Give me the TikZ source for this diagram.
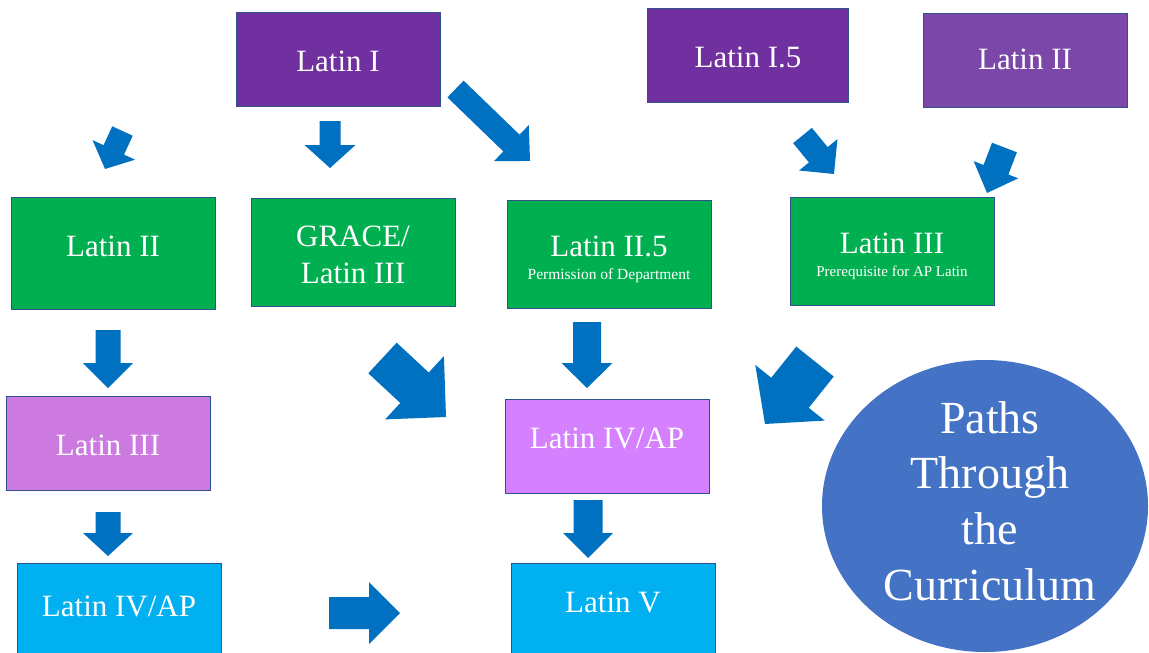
\documentclass[tikz,border=0pt]{standalone}
\usepackage{fontspec}
\setmainfont{Liberation Serif}
\usepackage{xcolor}
\usepackage{tikz}
\usetikzlibrary{positioning}

\definecolor{morado}{RGB}{112,48,160}
\definecolor{moradoclaro}{RGB}{123,72,170}
\definecolor{verde}{RGB}{0,176,80}
\definecolor{rosa}{RGB}{204,121,224}
\definecolor{rosaclaro}{RGB}{213,128,255}
\definecolor{celeste}{RGB}{0,176,240}
\definecolor{azul}{RGB}{0,112,192}
\definecolor{azulcirc}{RGB}{68,114,196}
\definecolor{borde}{RGB}{47,82,143}

% flecha de bloque: x, y, angulo, largo, ancho cuerpo, ancho punta, largo punta
\newcommand{\flecha}[7]{%
  \begin{scope}[shift={(#1,#2)},rotate=-#3]
    \fill[azul] ({-#4/2},{-#5/2}) -- ({#4/2-#7},{-#5/2}) -- ({#4/2-#7},{-#6/2})
      -- ({#4/2},0) -- ({#4/2-#7},{#6/2}) -- ({#4/2-#7},{#5/2}) -- ({-#4/2},{#5/2}) -- cycle;
  \end{scope}}

\tikzset{
  caja/.style={draw=borde, line width=0.8pt, minimum width=204pt, minimum height=94pt, inner sep=0pt},
  texto/.style={anchor=base, inner sep=0pt, text=white, font=\fontsize{31}{37}\selectfont},
  nota/.style={anchor=base, inner sep=0pt, text=white, font=\fontsize{15.5}{18}\selectfont}
}

\begin{document}
\begin{tikzpicture}[x=1pt,y=-1pt]
        \fill[white] (0,0) rectangle (1149,653);
        \useasboundingbox (0,0) rectangle (1149,653);

        % Cursos de inicio
        \node[caja, fill=morado] (latinI) at (338,59) {};
        \node[caja, fill=morado, minimum width=201pt, minimum height=94pt] (latinIv) at (748,55) {};
        \node[caja, fill=moradoclaro] (latinIIb) at (1025,60) {};
        \node[texto] (latinI-t) at (338,71) {Latin I};
        \node[texto] (latinIv-t) at (748,67) {Latin I.5};
        \node[texto] (latinIIb-t) at (1025,69.5) {Latin II};

        % Segundo nivel
        \node[caja, fill=verde, minimum height=112pt] (latinII) at (113,253) {};
        \node[caja, fill=verde, minimum height=108pt] (grace) at (353,252) {};
        \node[caja, fill=verde, minimum height=108pt] (latinIIv) at (609,254) {};
        \node[caja, fill=verde, minimum height=108pt] (latinIIIb) at (892,251) {};
        \node[texto] (latinII-t) at (113,256) {Latin II};
        \node[texto] (grace-t) at (353,246.5) {GRACE/};
        \node[texto] (grace-t2) at (353,283) {Latin III};
        \node[texto] (latinIIv-t) at (609,256.3) {Latin II.5};
        \node[nota] (latinIIv-n) at (609,279) {Permission of Department};
        \node[texto] (latinIIIb-t) at (892,253.3) {Latin III};
        \node[nota, font=\fontsize{15}{18}\selectfont] (latinIIIb-n) at (892,276) {Prerequisite for AP Latin};

        % Niveles superiores
        \node[caja, fill=rosa] (latinIII) at (108,443) {};
        \node[caja, fill=rosaclaro] (latinIV) at (607,446) {};
        \node[caja, fill=celeste] (latinIVc) at (119,610) {};
        \node[caja, fill=celeste] (latinV) at (613,610) {};
        \node[texto] (latinIII-t) at (108,455.7) {Latin III};
        \node[texto] (latinIV-t) at (607,448.3) {Latin IV/AP};
        \node[texto] (latinIVc-t) at (119,616.3) {Latin IV/AP};
        \node[texto] (latinV-t) at (613,612.3) {Latin V};

        % Circulo
        \fill[azulcirc] (985,506) ellipse [x radius=163pt, y radius=146pt];
        \node[text=white, align=center, font=\fontsize{46}{55.7}\selectfont] (camino) at (990,501)
            {Paths\\Through\\the\\Curriculum};

        % Flechas
        \flecha{113.75}{150}{114.7}{41.8}{22.5}{46.8}{21}
        \flecha{330}{144.5}{90}{47}{21}{51}{23}
        \flecha{492.75}{125}{44}{103.6}{23.3}{50}{25.8}
        \flecha{818.25}{154.75}{50.7}{49.7}{24.2}{49.6}{24.8}
        \flecha{995.75}{170.25}{111}{48.7}{26.6}{47.8}{24.9}
        \flecha{108}{359}{90}{58}{25}{50}{25}
        \flecha{414.25}{387.5}{42.9}{86.7}{41.7}{86.4}{43}
        \flecha{587}{355}{90}{66}{28}{51}{25}
        \flecha{790}{392.75}{128.7}{80}{48}{89}{40}
        \flecha{108}{534}{90}{44}{25}{50}{23}
        \flecha{588}{529}{90}{58}{29}{50}{25}
        \flecha{364.5}{613}{0}{71}{32}{62}{31}
\end{tikzpicture}
\end{document}
